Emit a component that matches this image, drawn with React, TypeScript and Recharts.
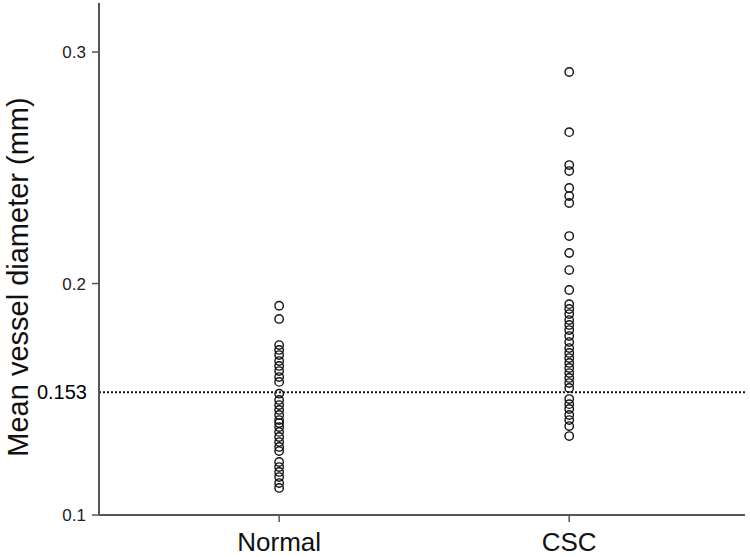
import React from 'react';
import { ScatterChart, Scatter, XAxis, YAxis, ReferenceLine, ReferenceArea } from 'recharts';

const categories = ['Normal', 'CSC'];
const categoryPositions = [1, 2];
const yTicks = [0.1, 0.2, 0.3];
const thresholdValue = 0.153;

const normalValues = [
  0.1904, 0.1847, 0.1734, 0.1713, 0.1691, 0.1665, 0.1644, 0.1622, 0.1596, 0.1575,
  0.1524, 0.1497, 0.1475, 0.1454, 0.1432, 0.141, 0.1397, 0.138, 0.1359, 0.1337,
  0.1315, 0.1294, 0.1276, 0.1229, 0.1207, 0.1186, 0.1164, 0.1138, 0.1117,
];

const cscValues = [
  0.2914, 0.2654, 0.2512, 0.2486, 0.2413, 0.2378, 0.2348, 0.2205, 0.2132, 0.2058,
  0.1972, 0.1911, 0.189, 0.1868, 0.1842, 0.1821, 0.1799, 0.1773, 0.1747, 0.1721,
  0.17, 0.1678, 0.1657, 0.1635, 0.1613, 0.1592, 0.157, 0.1549, 0.1501, 0.1479,
  0.1458, 0.1432, 0.141, 0.1384, 0.1341,
];

const normalData = normalValues.map((v) => ({ x: categoryPositions[0], y: v }));
const cscData = cscValues.map((v) => ({ x: categoryPositions[1], y: v }));

const FONT = 'Liberation Sans, Arial, sans-serif';

const OpenCircle = (props: any) => {
  const { cx, cy } = props;
  if (cx == null || cy == null) return null;
  return <circle cx={cx} cy={cy} r={4.2} fill="none" stroke="#111" strokeWidth={1.4} />;
};

const YLabel = () => (
  <text
    transform="translate(28, 277) rotate(-90)"
    textAnchor="middle"
    fontFamily={FONT}
    fontSize={29}
    fill="#111"
  >
    Mean vessel diameter (mm)
  </text>
);

export default function App() {
  return (
    <div style={{ position: 'absolute', left: 0, top: 0, background: '#fff' }}>
      <ScatterChart width={750} height={557} margin={{ top: 3, right: 5, bottom: 0, left: 0 }}>
        <XAxis
          type="number"
          dataKey="x"
          domain={[0.379, 2.606]}
          ticks={categoryPositions}
          tickFormatter={(v: number) => categories[categoryPositions.indexOf(v)] ?? ''}
          height={42}
          tickSize={7}
          tickMargin={11}
          axisLine={{ stroke: '#555', strokeWidth: 2 }}
          tickLine={{ stroke: '#555', strokeWidth: 1.5 }}
          tick={{ fontSize: 26, fill: '#111', fontFamily: FONT }}
          allowDataOverflow
        />
        <YAxis
          type="number"
          dataKey="y"
          domain={[0.1, 0.3212]}
          ticks={yTicks}
          tickFormatter={(v: number) => String(v)}
          width={99}
          tickSize={7}
          tickMargin={6}
          axisLine={{ stroke: '#555', strokeWidth: 2 }}
          tickLine={{ stroke: '#555', strokeWidth: 1.5 }}
          tick={{ fontSize: 17, fill: '#222', fontFamily: FONT }}
          label={<YLabel />}
          allowDataOverflow
        />
        <ReferenceArea fill="none" stroke="#555" strokeWidth={2} ifOverflow="visible" />
        <ReferenceLine
          y={thresholdValue}
          stroke="#111"
          strokeWidth={2}
          strokeDasharray="2 2"
          ifOverflow="visible"
          label={{
            value: String(thresholdValue),
            position: 'left',
            offset: 12,
            fontSize: 20,
            fill: '#000',
            fontFamily: FONT,
          }}
        />
        <Scatter data={normalData} shape={<OpenCircle />} isAnimationActive={false} />
        <Scatter data={cscData} shape={<OpenCircle />} isAnimationActive={false} />
      </ScatterChart>
    </div>
  );
}
